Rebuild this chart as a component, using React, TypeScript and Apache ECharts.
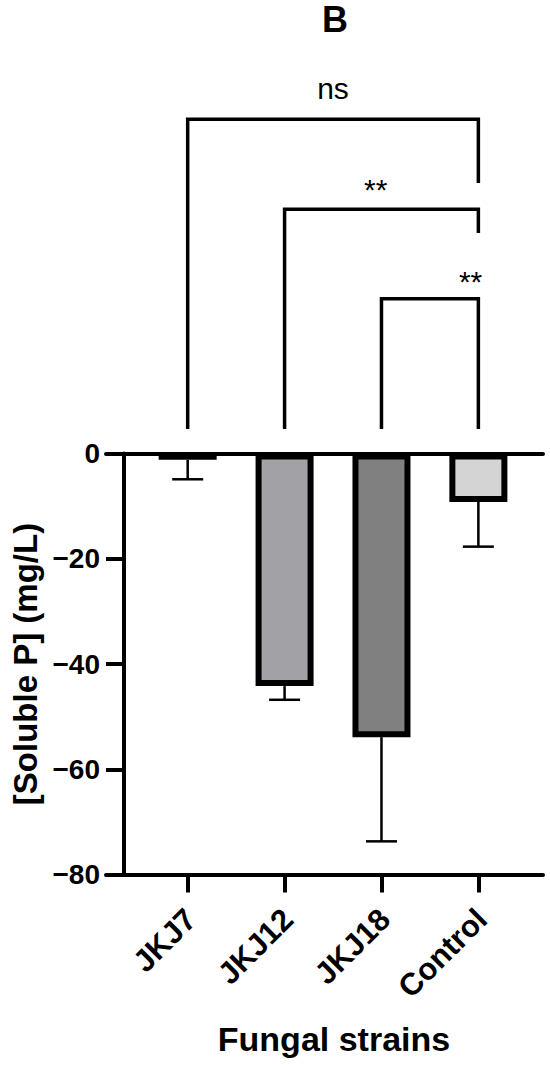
import React, { useEffect, useRef } from "react";
import * as echarts from "echarts";

const categories = ["JKJ7", "JKJ12", "JKJ18", "Control"];
const means = [-1.2, -44.2, -53.9, -9.2];
const errors = [3.7, 2.6, 19.8, 8.5];
const barColors = ["#000000", "#a2a1a6", "#808080", "#d4d4d4"];

const yMin = -80;
const yMax = 0;
const yInterval = 20;

const bracketFrom = [0, 1, 2];
const bracketTo = [3, 3, 3];
const bracketTop = [63.5, 46.4, 29.4];
const bracketLeftEnd = [4.66, 4.66, 4.66];
const bracketRightEnd = [51.4, 41.9, 4.66];
const bracketLabels = ["ns", "**", "**"];
const bracketLabelX = [1.5, 1.94, 2.92];
const bracketLabelY = [69.3, 50.1, 32.6];

const FONT = "'Liberation Sans', Arial, sans-serif";

export default function App() {
  const ref = useRef<HTMLDivElement>(null);

  useEffect(() => {
    if (!ref.current) return;
    const chart = echarts.init(ref.current, undefined, { renderer: "svg" });
    const xMin = -0.843;
    const xMax = 3.667;
    const option: any = {
      animation: false,
      backgroundColor: "#ffffff",
      graphic: [
        {
          type: "text",
          x: 335,
          y: 19,
          style: {
            text: "B",
            fontSize: 36,
            fontWeight: "bold",
            fontFamily: FONT,
            fill: "#000",
            align: "center",
            verticalAlign: "middle",
          },
        },
        {
          type: "text",
          x: 334,
          y: 1039,
          style: {
            text: "Fungal strains",
            fontSize: 34,
            fontWeight: "bold",
            fontFamily: FONT,
            fill: "#000",
            align: "center",
            verticalAlign: "middle",
          },
        },
      ],
      grid: { left: 106, right: 7, top: 453.5, bottom: 190.5 },
      xAxis: [
        {
          type: "value",
          position: "bottom",
          min: xMin,
          max: xMax,
          axisLine: { show: true, onZero: false, lineStyle: { color: "#000", width: 4 } },
          axisTick: {
            show: true,
            customValues: [0, 1, 2, 3],
            length: 18,
            lineStyle: { color: "#000", width: 4 },
          },
          axisLabel: {
            show: true,
            customValues: [0, 1, 2, 3],
            formatter: (v: number) => categories[Math.round(v)] ?? "",
            rotate: 45,
            margin: 21,
            padding: [0, 11, 0, 0],
            align: "right",
            verticalAlign: "top",
            fontSize: 31,
            fontWeight: "bold",
            fontFamily: FONT,
            color: "#000",
          },
          splitLine: { show: false },
        },
        {
          type: "value",
          position: "top",
          min: xMin,
          max: xMax,
          axisLine: { show: true, onZero: false, lineStyle: { color: "#000", width: 4 } },
          axisTick: { show: false },
          axisLabel: { show: false },
          splitLine: { show: false },
        },
      ],
      yAxis: {
        type: "value",
        min: yMin,
        max: yMax,
        interval: yInterval,
        offset: -18,
        name: "[Soluble P] (mg/L)",
        nameLocation: "middle",
        nameGap: 80,
        nameRotate: 90,
        nameTextStyle: {
          fontSize: 33,
          fontWeight: "bold",
          fontFamily: FONT,
          color: "#000",
        },
        axisLine: { show: true, onZero: false, lineStyle: { color: "#000", width: 4 } },
        axisTick: { show: true, length: 18, lineStyle: { color: "#000", width: 4 } },
        axisLabel: {
          margin: 24,
          fontSize: 28,
          fontWeight: "bold",
          fontFamily: FONT,
          color: "#000",
          formatter: (v: number) => String(v).replace("-", "\u2212"),
        },
        splitLine: { show: false },
      },
      series: [
        {
          type: "custom",
          name: "errors",
          xAxisIndex: 0,
          z: 1,
          clip: false,
          data: means.map((m, i) => [i, m]),
          renderItem: (params: any, api: any) => {
            const i = params.dataIndex;
            const top = api.coord([i, means[i]]);
            const bot = api.coord([i, means[i] - errors[i]]);
            const half = 15.5;
            return {
              type: "group",
              children: [
                {
                  type: "line",
                  shape: { x1: top[0], y1: top[1], x2: bot[0], y2: bot[1] },
                  style: { stroke: "#000", lineWidth: 2.5 },
                },
                {
                  type: "line",
                  shape: { x1: bot[0] - half, y1: bot[1], x2: bot[0] + half, y2: bot[1] },
                  style: { stroke: "#000", lineWidth: 2.5 },
                },
              ],
            };
          },
        },
        {
          type: "bar",
          name: "means",
          xAxisIndex: 0,
          z: 2,
          barWidth: 58,
          data: means.map((m, i) => ({
            value: [i, m],
            itemStyle: { color: barColors[i] },
          })),
          itemStyle: { borderColor: "#000", borderWidth: 6 },
        },
        {
          type: "custom",
          name: "brackets",
          xAxisIndex: 0,
          z: 3,
          clip: false,
          data: bracketFrom.map((f, i) => [f, bracketTop[i]]),
          renderItem: (params: any, api: any) => {
            const i = params.dataIndex;
            const pL0 = api.coord([bracketFrom[i], bracketLeftEnd[i]]);
            const pLT = api.coord([bracketFrom[i], bracketTop[i]]);
            const pRT = api.coord([bracketTo[i], bracketTop[i]]);
            const pR0 = api.coord([bracketTo[i], bracketRightEnd[i]]);
            const pT = api.coord([bracketLabelX[i], bracketLabelY[i]]);
            return {
              type: "group",
              children: [
                {
                  type: "polyline",
                  shape: { points: [pL0, pLT, pRT, pR0] },
                  style: { stroke: "#000", lineWidth: 3.5, fill: null, lineJoin: "miter" },
                },
                {
                  type: "text",
                  x: pT[0],
                  y: pT[1],
                  style: {
                    text: bracketLabels[i],
                    fontSize: 30,
                    fontFamily: FONT,
                    fill: "#000",
                    align: "center",
                    verticalAlign: "middle",
                  },
                },
              ],
            };
          },
        },
      ],
    };
    chart.setOption(option);
    return () => chart.dispose();
  }, []);

  return (
    <div
      ref={ref}
      style={{ position: "fixed", left: 0, top: 0, width: 550, height: 1065, background: "#fff" }}
    />
  );
}
